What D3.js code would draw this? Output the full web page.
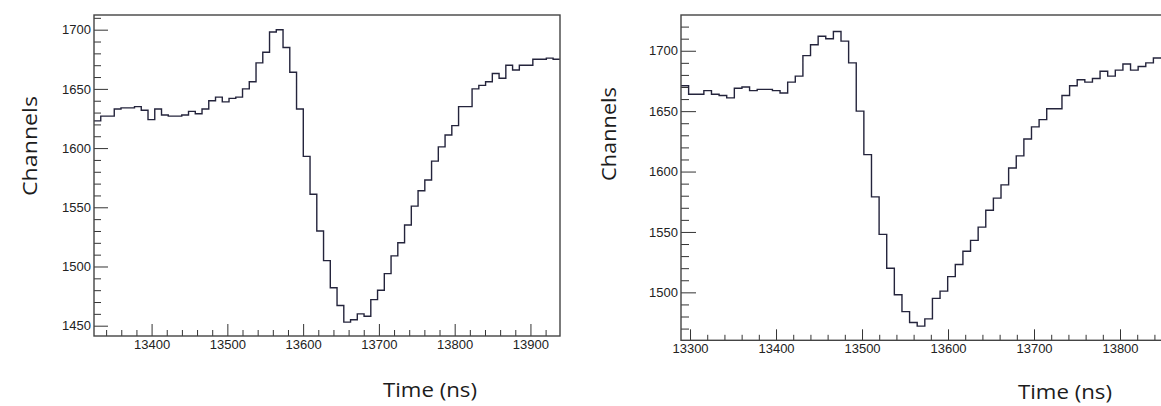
<!DOCTYPE html>
<html>
<head>
<meta charset="utf-8">
<script src="https://cdn.jsdelivr.net/npm/d3@7"></script>
<style>
  body { margin: 0; background: #fff; }
  svg { display: block; }
  .tick text { font-family: "Liberation Sans", Arial, sans-serif; fill: #222; }
  .axis-title { font-family: "Open Sans", sans-serif; fill: #1c1c1c; }
</style>
</head>
<body>
<div id="wrapper"></div>
<script>
// bin contents (one value per ~8.9 ns bin)
const leftCounts = [
  1623, 1627, 1627, 1633, 1634, 1634, 1635, 1632, 1624, 1633,
  1628, 1627, 1627, 1628, 1631, 1629, 1633, 1640, 1643, 1639,
  1642, 1643, 1650, 1656, 1672, 1681, 1698, 1700, 1685, 1664,
  1633, 1593, 1561, 1530, 1505, 1482, 1467, 1453, 1455, 1460,
  1458, 1472, 1480, 1494, 1509, 1520, 1535, 1551, 1564, 1573,
  1589, 1601, 1611, 1619, 1635, 1635, 1650, 1653, 1656, 1663,
  1659, 1670, 1666, 1670, 1670, 1675, 1675, 1676, 1675
]
const rightCounts = [
  1671, 1664, 1664, 1667, 1664, 1663, 1661, 1669, 1670, 1667,
  1668, 1668, 1667, 1665, 1674, 1679, 1696, 1705, 1712, 1710,
  1716, 1708, 1690, 1650, 1614, 1579, 1548, 1520, 1498, 1484,
  1475, 1472, 1478, 1495, 1501, 1513, 1523, 1534, 1543, 1554,
  1568, 1578, 1589, 1603, 1613, 1627, 1637, 1643, 1652, 1652,
  1663, 1671, 1676, 1674, 1677, 1683, 1679, 1684, 1689, 1684,
  1687, 1690, 1694
]

const leftBinStart = 13324
const leftBinWidth = 8.91
const rightBinStart = 13289.5
const rightBinWidth = 8.86

const leftXDomain = [13324, 13939]
const leftYDomain = [1441.3, 1712.4]
const rightXDomain = [13289.5, 13856.5]
const rightYDomain = [1460.3, 1729.6]

const xMajorTicks = [13300, 13400, 13500, 13600, 13700, 13800, 13900]
const yMajorTicks = [1450, 1500, 1550, 1600, 1650, 1700]

const yTitle = "Channels"
const xTitle = "Time (ns)"

const wrapper = d3.select("#wrapper")
  .append("svg")
    .attr("width", 1161)
    .attr("height", 406)

function drawPanel(opts) {
  const { counts, binStart, binWidth, xDomain, yDomain, box, labels } = opts

  const xScale = d3.scaleLinear()
    .domain(xDomain)
    .range([0, box.width])

  const yScale = d3.scaleLinear()
    .domain(yDomain)
    .range([box.height, 0])

  const bounds = wrapper.append("g")
    .attr("transform", `translate(${box.left}, ${box.top})`)

  const inRange = (v, dom) => v >= dom[0] && v <= dom[1]

  const xMinor = d3.range(Math.ceil(xDomain[0] / 20) * 20, xDomain[1], 20)
    .filter(d => d % 100 !== 0)
  const yMinor = d3.range(Math.ceil(yDomain[0] / 10) * 10, yDomain[1], 10)
    .filter(d => d % 50 !== 0)

  // minor ticks
  bounds.append("g")
    .attr("transform", `translate(0, ${box.height})`)
    .call(d3.axisBottom(xScale).tickValues(xMinor).tickSize(-box.minorX).tickFormat(""))
    .call(g => g.select(".domain").remove())
  bounds.append("g")
    .call(d3.axisLeft(yScale).tickValues(yMinor).tickSize(-box.minorY).tickFormat(""))
    .call(g => g.select(".domain").remove())

  // major ticks
  const xAxis = bounds.append("g")
    .attr("transform", `translate(0, ${box.height})`)
    .call(d3.axisBottom(xScale)
      .tickValues(xMajorTicks.filter(d => inRange(d, xDomain)))
      .tickSize(-box.majorX)
      .tickPadding(box.xPad)
      .tickFormat(d3.format("d")))
    .call(g => g.select(".domain").remove())
  xAxis.selectAll("text").style("font-size", "13px")

  const yAxis = bounds.append("g")
    .call(d3.axisLeft(yScale)
      .tickValues(yMajorTicks.filter(d => inRange(d, yDomain)))
      .tickSize(-box.majorY)
      .tickPadding(box.yPad)
      .tickFormat(d3.format("d")))
    .call(g => g.select(".domain").remove())
  yAxis.selectAll("text").style("font-size", "13px")

  bounds.selectAll(".tick line")
    .attr("stroke", "#333")
    .attr("stroke-width", 1)

  // histogram trace
  const points = counts.map((c, i) => [binStart + i * binWidth, c])
  points.push([binStart + counts.length * binWidth, counts[counts.length - 1]])

  const lineGenerator = d3.line()
    .x(d => xScale(d[0]))
    .y(d => yScale(d[1]))
    .curve(d3.curveStepAfter)

  bounds.append("path")
    .attr("d", lineGenerator(points))
    .attr("fill", "none")
    .attr("stroke", "#24243c")
    .attr("stroke-width", 1.4)

  // frame
  bounds.append("rect")
    .attr("width", box.width)
    .attr("height", box.height)
    .attr("fill", "none")
    .attr("stroke", "#444")
    .attr("stroke-width", 1.4)

  // titles
  wrapper.append("text")
    .attr("class", "axis-title")
    .attr("transform", `translate(${labels.yx}, ${labels.yy}) rotate(-90)`)
    .attr("text-anchor", "middle")
    .attr("font-size", 20)
    .attr("textLength", labels.yLen)
    .attr("lengthAdjust", "spacingAndGlyphs")
    .text(yTitle)

  wrapper.append("text")
    .attr("class", "axis-title")
    .attr("x", labels.xx)
    .attr("y", labels.xy)
    .attr("text-anchor", "middle")
    .attr("font-size", 20)
    .attr("textLength", 94)
    .attr("lengthAdjust", "spacingAndGlyphs")
    .text(xTitle)
}

drawPanel({
  counts: leftCounts,
  binStart: leftBinStart,
  binWidth: leftBinWidth,
  xDomain: leftXDomain,
  yDomain: leftYDomain,
  box: { left: 94, top: 15, width: 466, height: 321,
         majorX: 12, minorX: 6, majorY: 14, minorY: 7, xPad: 4, yPad: 3 },
  labels: { yx: 37, yy: 146, yLen: 100, xx: 430, xy: 397 }
})

drawPanel({
  counts: rightCounts,
  binStart: rightBinStart,
  binWidth: rightBinWidth,
  xDomain: rightXDomain,
  yDomain: rightYDomain,
  box: { left: 681, top: 15, width: 487.6, height: 325.3,
         majorX: 11, minorX: 5.5, majorY: 15, minorY: 8, xPad: 3.5, yPad: 3 },
  labels: { yx: 616, yy: 134, yLen: 94, xx: 1065, xy: 398.5 }
})
</script>
</body>
</html>
